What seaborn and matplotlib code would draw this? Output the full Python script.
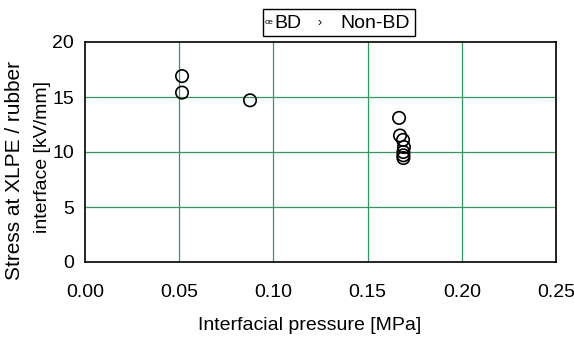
import matplotlib
matplotlib.use("Agg")
import matplotlib.pyplot as plt
import seaborn as sns
import pandas as pd
from matplotlib.patches import Rectangle

# Data
pressure = [0.0515, 0.0515, 0.0876, 0.1667, 0.1672, 0.1688, 0.1693, 0.1690, 0.1690, 0.1690]
stress = [16.9, 15.4, 14.7, 13.1, 11.5, 11.1, 10.45, 10.0, 9.7, 9.45]
x_ticks = [0.00, 0.05, 0.10, 0.15, 0.20, 0.25]
x_tick_labels = ["0.00", "0.05", "0.10", "0.15", "0.20", "0.25"]
y_ticks = [0, 5, 10, 15, 20]
y_tick_labels = ["0", "5", "10", "15", "20"]

df = pd.DataFrame({"pressure": pressure, "stress": stress})

sns.set_theme(style="white")
plt.rcParams['font.family'] = ['Liberation Sans', 'DejaVu Sans']

W, H = 574, 338
fig = plt.figure(figsize=(W / 100, H / 100), dpi=100)
L, R, T, B = 85, 556, 42, 262
ax = fig.add_axes([L / W, 1 - B / H, (R - L) / W, (B - T) / H])

grid_c = "#2e9a62"
for xv in x_ticks[1:-1]:
    ax.axvline(xv, color=grid_c, lw=0.9, zorder=0)
for yv in y_ticks[1:-1]:
    ax.axhline(yv, color=grid_c, lw=0.9, zorder=0)

sns.scatterplot(data=df, x="pressure", y="stress", ax=ax, s=80,
                facecolor="none", edgecolor="black", linewidth=1.2,
                marker="o", zorder=3, legend=False)

ax.set_xlim(0, 0.25)
ax.set_ylim(0, 20)
ax.set_xticks(x_ticks)
ax.set_xticklabels(x_tick_labels)
ax.set_yticks(y_ticks)
ax.set_yticklabels(y_tick_labels)
ax.tick_params(axis="both", direction="in", length=5, width=1, colors="black",
               labelsize=14, labelcolor="black")
ax.tick_params(axis="x", pad=16)
ax.tick_params(axis="y", pad=8)
for sp in ax.spines.values():
    sp.set_visible(True)
    sp.set_color("black")
    sp.set_linewidth(1.2)
ax.set_xlabel("")
ax.set_ylabel("")

# Axis labels
fig.text(310 / W, 1 - 325 / H, "Interfacial pressure [MPa]", ha="center", va="center",
         fontsize=14, color="black")
fig.text(15 / W, 1 - 170 / H, "Stress at XLPE / rubber", ha="center", va="center",
         rotation=90, fontsize=15, color="black")
fig.text(43 / W, 1 - 157 / H, "interface [kV/mm]", ha="center", va="center",
         rotation=90, fontsize=14, color="black")

# Legend box
fig.patches.append(Rectangle((263 / W, 1 - 36 / H), (415 - 263) / W, 27 / H,
                             transform=fig.transFigure, facecolor="white",
                             edgecolor="black", lw=1.0, zorder=5))
ly = 1 - 23 / H
fig.text(265 / W, ly, "œ", ha="left", va="center", fontsize=6, color="black", zorder=6)
fig.text(274 / W, ly, "BD", ha="left", va="center", fontsize=14, color="black", zorder=6)
fig.text(317 / W, ly, "›", ha="left", va="center", fontsize=9, color="black", zorder=6)
fig.text(340 / W, ly, "Non-BD", ha="left", va="center", fontsize=14, color="black", zorder=6)

fig.savefig("out.png", dpi=100, facecolor="white")
